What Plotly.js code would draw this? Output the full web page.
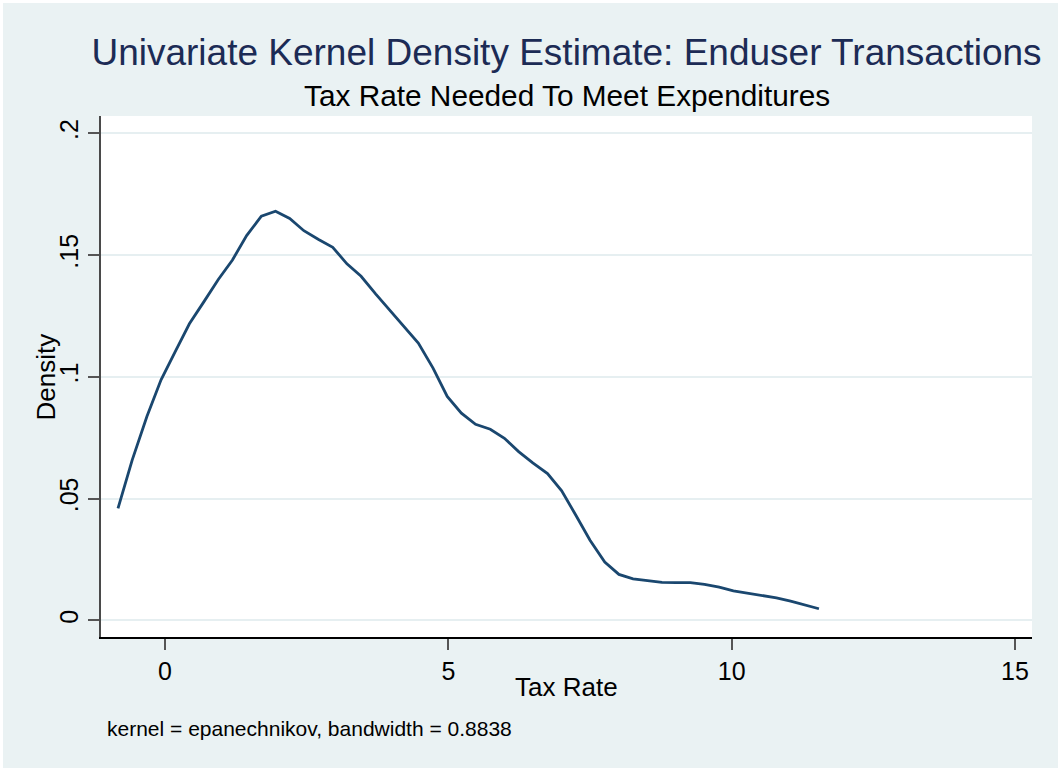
<!DOCTYPE html>
<html>
<head>
<meta charset="utf-8">
<script src="https://cdn.plot.ly/plotly-3.0.1.min.js"></script>
<style>
  html, body { margin: 0; padding: 0; background: #ffffff; }
  #chart { position: absolute; left: 3px; top: 3px; width: 1055px; height: 765px; }
</style>
</head>
<body>
<div id="chart"></div>
<script>
// Kernel density estimate (50 evaluation points)
const taxRate = [
  -0.83, -0.58, -0.32, -0.07, 0.18, 0.43, 0.69, 0.94, 1.19, 1.44,
  1.70, 1.95, 2.20, 2.45, 2.71, 2.96, 3.21, 3.46, 3.72, 3.97,
  4.22, 4.47, 4.73, 4.98, 5.23, 5.48, 5.74, 5.99, 6.24, 6.49,
  6.75, 7.00, 7.25, 7.50, 7.76, 8.01, 8.26, 8.51, 8.77, 9.02,
  9.27, 9.52, 9.78, 10.03, 10.28, 10.53, 10.79, 11.04, 11.29, 11.54
];
const density = [
  0.0460, 0.0658, 0.0837, 0.0988, 0.1104, 0.1218, 0.1310, 0.1400, 0.1480, 0.1580,
  0.1660, 0.1680, 0.1650, 0.1600, 0.1564, 0.1532, 0.1464, 0.1413, 0.1340, 0.1273,
  0.1207, 0.1139, 0.1036, 0.0920, 0.0851, 0.0805, 0.0785, 0.0748, 0.0693, 0.0647,
  0.0603, 0.0532, 0.0432, 0.0329, 0.0240, 0.0189, 0.0171, 0.0165, 0.0156, 0.0155,
  0.0155, 0.0148, 0.0137, 0.0121, 0.0112, 0.0103, 0.0093, 0.0079, 0.0062, 0.0048
];
const xTickVals = [0, 5, 10, 15];
const xTickText = ['0', '5', '10', '15'];
const yTickVals = [0, 0.05, 0.1, 0.15, 0.2];
const yTickText = ['0', '.05', '.1', '.15', '.2'];

const FONT = 'Liberation Sans, Arial, Helvetica, sans-serif';

const trace = {
  x: taxRate,
  y: density,
  type: 'scatter',
  mode: 'lines',
  line: { color: '#1a476f', width: 2.8 },
  hoverinfo: 'x+y'
};

const layout = {
  width: 1055,
  height: 765,
  paper_bgcolor: '#eaf2f3',
  plot_bgcolor: '#ffffff',
  margin: { l: 98, r: 26, t: 113, b: 131, pad: 0 },
  showlegend: false,
  font: { family: FONT, color: '#000000' },
  title: {
    text: 'Univariate Kernel Density Estimate: Enduser Transactions',
    font: { family: FONT, size: 37, color: '#1c2b55' },
    xref: 'paper', x: 0.5, xanchor: 'center',
    yref: 'container', y: 1 - 36 / 765, yanchor: 'top'
  },
  xaxis: {
    range: [-1.13, 15.30],
    tickvals: xTickVals,
    ticktext: xTickText,
    ticks: 'outside', ticklen: 11, tickwidth: 1.5, tickcolor: '#555555',
    tickfont: { family: FONT, size: 25, color: '#000000' },
    showline: true, linecolor: '#000000', linewidth: 1.5,
    showgrid: false, zeroline: false,
    mirror: false
  },
  yaxis: {
    range: [-0.0068, 0.2071],
    tickvals: yTickVals,
    ticktext: yTickText,
    tickangle: -90,
    ticks: 'outside', ticklen: 11, tickwidth: 1.5, tickcolor: '#555555',
    tickfont: { family: FONT, size: 25, color: '#000000' },
    showline: true, linecolor: '#4a4a4a', linewidth: 1.5,
    showgrid: true, gridcolor: '#e6eff1', gridwidth: 2,
    zeroline: false
  },
  annotations: [
    {
      text: 'Tax Rate Needed To Meet Expenditures',
      xref: 'paper', yref: 'paper', x: 0.5, y: 1.0384,
      xanchor: 'center', yanchor: 'middle', showarrow: false,
      font: { family: FONT, size: 29.8, color: '#000000' }
    },
    {
      text: 'Tax Rate',
      xref: 'paper', yref: 'paper', x: 0.5, y: -0.096,
      xanchor: 'center', yanchor: 'middle', showarrow: false,
      font: { family: FONT, size: 26, color: '#000000' }
    },
    {
      text: 'Density',
      xref: 'paper', yref: 'paper', x: -0.0591, y: 0.5,
      xanchor: 'center', yanchor: 'middle', showarrow: false, textangle: -90,
      font: { family: FONT, size: 26, color: '#000000' }
    },
    {
      text: 'kernel = epanechnikov, bandwidth = 0.8838',
      xref: 'paper', yref: 'paper', x: 0.0043, y: -0.1754,
      xanchor: 'left', yanchor: 'middle', showarrow: false,
      font: { family: FONT, size: 21, color: '#000000' }
    }
  ]
};

Plotly.newPlot('chart', [trace], layout, { displayModeBar: false });
</script>
</body>
</html>
